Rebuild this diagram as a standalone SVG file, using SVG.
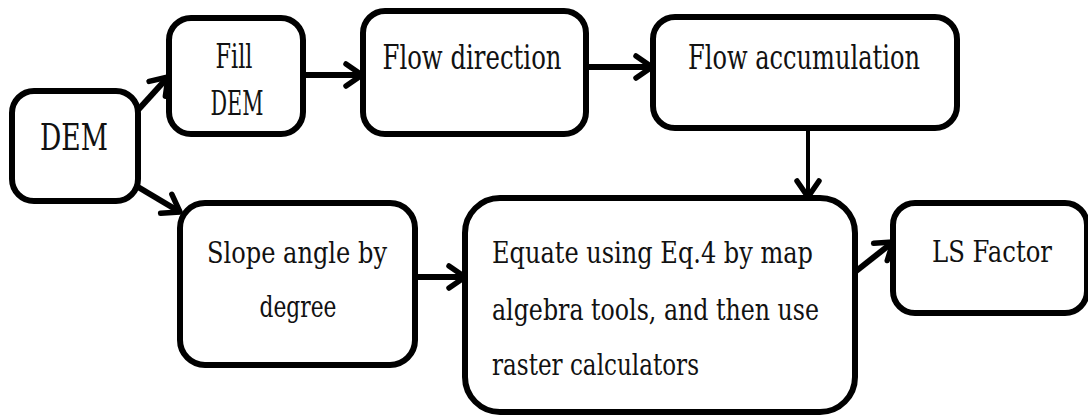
<svg xmlns="http://www.w3.org/2000/svg" width="1088" height="419" viewBox="0 0 1088 419">
<style>
.box{fill:#fff;stroke:#000;stroke-width:6}
.t{font-family:'DejaVu Serif',serif;font-size:29px;fill:#111}
.m{text-anchor:middle}
.c{fill:none;stroke:#000;stroke-width:6}
.thin{stroke-width:4}
</style>
<defs>
<marker id="ah" viewBox="0 0 24 28" refX="20" refY="14" markerWidth="24" markerHeight="28" markerUnits="userSpaceOnUse" orient="auto">
<path d="M4,3 L20,14 L4,25" fill="none" stroke="#000" stroke-width="5.5" stroke-linecap="round" stroke-linejoin="round"/>
</marker>
</defs>
<rect width="1088" height="419" fill="#fff"/>
<g id="connectors">
<path class="c" d="M138,110 L168,77" marker-end="url(#ah)"/>
<path class="c" d="M138,187 L180,212" marker-end="url(#ah)"/>
<path class="c" d="M303,75 L362,75" marker-end="url(#ah)"/>
<path class="c" d="M587,67 L652,67" marker-end="url(#ah)"/>
<path class="c thin" d="M808,128 L808,197" marker-end="url(#ah)"/>
<path class="c" d="M415,277 L465,277" marker-end="url(#ah)"/>
<path class="c" d="M855,272 L893,242" marker-end="url(#ah)"/>
</g>
<g id="dem">
<rect class="box" x="12" y="91" width="126" height="110" rx="22"/>
<text class="t m" x="74" y="150" style="font-size:38px" textLength="68" lengthAdjust="spacingAndGlyphs">DEM</text>
</g>
<g id="fill-dem">
<rect class="box" x="169" y="18" width="134" height="116" rx="22"/>
<text class="t m" x="234" y="68" style="font-size:34px" textLength="37" lengthAdjust="spacingAndGlyphs">Fill</text>
<text class="t m" x="237" y="115" style="font-size:34px" textLength="53" lengthAdjust="spacingAndGlyphs">DEM</text>
</g>
<g id="flow-direction">
<rect class="box" x="363" y="11" width="223" height="123" rx="22"/>
<text class="t m" x="472" y="69" style="font-size:33px" textLength="179" lengthAdjust="spacingAndGlyphs">Flow direction</text>
</g>
<g id="flow-accumulation">
<rect class="box" x="653" y="17" width="304" height="111" rx="22"/>
<text class="t m" x="804" y="69" style="font-size:33px" textLength="232" lengthAdjust="spacingAndGlyphs">Flow accumulation</text>
</g>
<g id="slope">
<rect class="box" x="180" y="203" width="235" height="162" rx="25"/>
<text class="t m" x="297" y="263" textLength="180" lengthAdjust="spacingAndGlyphs">Slope angle by</text>
<text class="t m" x="298" y="317" textLength="77" lengthAdjust="spacingAndGlyphs">degree</text>
</g>
<g id="equate">
<rect class="box" x="465" y="198" width="390" height="214" rx="35"/>
<text class="t" x="492" y="263" textLength="321" lengthAdjust="spacingAndGlyphs">Equate using Eq.4 by map</text>
<text class="t" x="492" y="320" textLength="327" lengthAdjust="spacingAndGlyphs">algebra tools, and then use</text>
<text class="t" x="492" y="375" textLength="207" lengthAdjust="spacingAndGlyphs">raster calculators</text>
</g>
<g id="ls-factor">
<rect class="box" x="893" y="203" width="194" height="110" rx="22"/>
<text class="t m" x="992" y="262" textLength="120" lengthAdjust="spacingAndGlyphs">LS Factor</text>
</g>
</svg>
